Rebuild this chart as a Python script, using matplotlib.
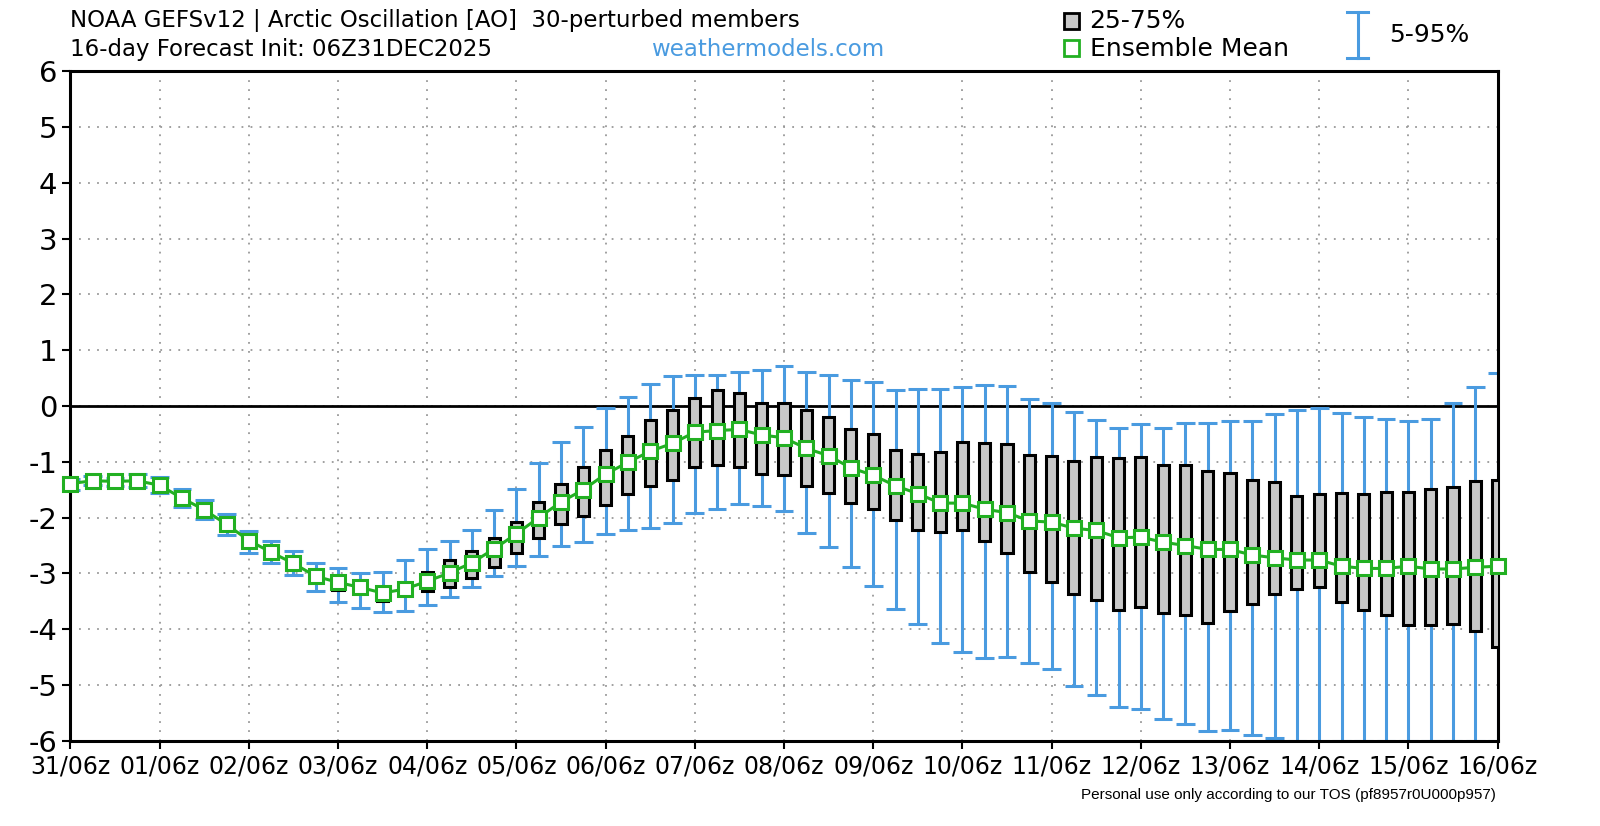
import matplotlib
matplotlib.use("Agg")
import matplotlib.pyplot as plt
from matplotlib.patches import Rectangle
import numpy as np

labels = ["31/06z","01/06z","02/06z","03/06z","04/06z","05/06z","06/06z","07/06z",
          "08/06z","09/06z","10/06z","11/06z","12/06z","13/06z","14/06z","15/06z","16/06z"]

mean = [-1.39,-1.34,-1.35,-1.34,-1.42,-1.65,-1.86,-2.12,-2.41,-2.62,-2.82,-3.05,-3.16,-3.25,-3.35,-3.28,
        -3.14,-2.99,-2.81,-2.56,-2.29,-2.00,-1.72,-1.50,-1.22,-1.01,-0.81,-0.67,-0.47,-0.44,-0.42,-0.52,
        -0.57,-0.76,-0.89,-1.11,-1.24,-1.43,-1.57,-1.74,-1.74,-1.85,-1.91,-2.06,-2.08,-2.19,-2.23,-2.36,
        -2.35,-2.44,-2.50,-2.57,-2.57,-2.67,-2.72,-2.76,-2.76,-2.87,-2.91,-2.91,-2.87,-2.92,-2.92,-2.89,-2.87]
q75 = [-1.36,-1.31,-1.32,-1.31,-1.38,-1.61,-1.81,-2.07,-2.36,-2.56,-2.75,-2.98,-3.06,-3.15,-3.24,-3.18,
       -2.98,-2.76,-2.59,-2.37,-2.07,-1.72,-1.39,-1.09,-0.78,-0.53,-0.26,-0.07,0.15,0.28,0.24,0.06,
       0.05,-0.08,-0.20,-0.42,-0.51,-0.78,-0.86,-0.82,-0.64,-0.67,-0.68,-0.87,-0.89,-0.99,-0.92,-0.93,
       -0.91,-1.05,-1.06,-1.17,-1.20,-1.32,-1.36,-1.62,-1.58,-1.56,-1.57,-1.54,-1.54,-1.49,-1.46,-1.35,-1.33]
q25 = [-1.42,-1.37,-1.38,-1.37,-1.46,-1.69,-1.91,-2.17,-2.46,-2.68,-2.89,-3.12,-3.29,-3.35,-3.49,-3.38,
       -3.32,-3.25,-3.09,-2.88,-2.63,-2.36,-2.12,-1.97,-1.77,-1.57,-1.44,-1.33,-1.09,-1.05,-1.09,-1.21,
       -1.24,-1.44,-1.56,-1.74,-1.84,-2.04,-2.22,-2.26,-2.23,-2.41,-2.63,-2.98,-3.15,-3.37,-3.48,-3.65,
       -3.60,-3.71,-3.75,-3.88,-3.68,-3.55,-3.37,-3.27,-3.25,-3.52,-3.65,-3.74,-3.93,-3.92,-3.90,-4.03,-4.32]
p95 = [-1.30,-1.26,-1.29,-1.22,-1.28,-1.49,-1.68,-1.94,-2.24,-2.42,-2.60,-2.81,-2.91,-3.00,-2.97,-2.76,
       -2.56,-2.42,-2.22,-1.87,-1.48,-1.03,-0.64,-0.38,-0.04,0.16,0.40,0.53,0.56,0.56,0.61,0.65,
       0.72,0.61,0.56,0.46,0.43,0.28,0.31,0.30,0.34,0.37,0.35,0.12,0.06,-0.10,-0.25,-0.40,
       -0.33,-0.40,-0.30,-0.30,-0.27,-0.27,-0.15,-0.07,-0.04,-0.13,-0.20,-0.23,-0.27,-0.23,0.05,0.34,0.59]
p5 = [-1.50,-1.41,-1.44,-1.45,-1.56,-1.81,-2.03,-2.31,-2.63,-2.82,-3.02,-3.31,-3.51,-3.61,-3.69,-3.68,
      -3.56,-3.43,-3.24,-3.04,-2.86,-2.69,-2.50,-2.44,-2.29,-2.23,-2.18,-2.09,-1.91,-1.85,-1.75,-1.80,
      -1.88,-2.27,-2.53,-2.89,-3.22,-3.64,-3.90,-4.25,-4.40,-4.51,-4.49,-4.61,-4.71,-5.01,-5.17,-5.39,
      -5.43,-5.61,-5.70,-5.83,-5.80,-5.90,-5.95,-6.0,-6.0,-6.0,-6.0,-6.0,-6.0,-6.0,-6.0,-6.0,-6.0]

x = np.arange(len(mean))
blue = "#4a9be0"
green = "#22b022"

fig = plt.figure(figsize=(16, 8.26), dpi=100)
ax = fig.add_axes([0.044, 0.103, 0.892, 0.811])
ax.set_xlim(0, len(mean) - 1)
ax.set_ylim(-6, 6)

# grid
for xv in range(0, len(mean), 4):
    ax.axvline(xv, color="#999999", lw=1.3, ls=(0, (1, 4)), zorder=0)
for yv in range(-5, 6):
    ax.axhline(yv, color="#999999", lw=1.3, ls=(0, (1, 4)), zorder=0)
ax.axhline(0, color="black", lw=2, zorder=1)

# whiskers
cw = 0.42
ax.vlines(x, p5, p95, color=blue, lw=2.2, zorder=2)
ax.hlines(p95, x - cw, x + cw, color=blue, lw=2.2, zorder=2)
ax.hlines(p5, x - cw, x + cw, color=blue, lw=2.2, zorder=2)

# boxes
bw = 0.5
for xi, lo, hi in zip(x, q25, q75):
    ax.add_patch(Rectangle((xi - bw / 2, lo), bw, hi - lo, facecolor="#c8c8c8",
                           edgecolor="black", lw=2.2, zorder=3))

ax.plot(x, mean, color=green, lw=2.2, marker="s", ms=10, mfc="white", mec=green,
        mew=2.2, zorder=4, clip_on=False)

ax.set_xticks(range(0, len(mean), 4))
ax.set_xticklabels(labels, fontsize=17)
ax.set_yticks(range(-6, 7))
ax.set_yticklabels([str(v) for v in range(-6, 7)], fontsize=21)
ax.tick_params(direction="out", length=6, width=1.5)
for s in ax.spines.values():
    s.set_linewidth(2.2)

# header
fig.text(0.044, 0.975, "NOAA GEFSv12 | Arctic Oscillation [AO]  30-perturbed members",
         fontsize=16.5, ha="left", va="center")
fig.text(0.044, 0.94, "16-day Forecast Init: 06Z31DEC2025", fontsize=16.5, ha="left", va="center")
fig.text(0.48, 0.94, "weathermodels.com", fontsize=16.5, ha="center", va="center", color=blue)

# legend
fig.patches.append(Rectangle((0.665, 0.965), 0.0095, 0.019, transform=fig.transFigure,
                             facecolor="#c8c8c8", edgecolor="black", lw=2))
fig.text(0.681, 0.975, "25-75%", fontsize=18, ha="left", va="center")
fig.patches.append(Rectangle((0.665, 0.932), 0.0095, 0.019, transform=fig.transFigure,
                             facecolor="white", edgecolor=green, lw=2))
fig.text(0.681, 0.941, "Ensemble Mean", fontsize=18, ha="left", va="center")
fig.lines.append(plt.Line2D([0.8485, 0.8485], [0.93, 0.985], transform=fig.transFigure, color=blue, lw=2.2))
fig.lines.append(plt.Line2D([0.842, 0.855], [0.985, 0.985], transform=fig.transFigure, color=blue, lw=2.2))
fig.lines.append(plt.Line2D([0.842, 0.855], [0.93, 0.93], transform=fig.transFigure, color=blue, lw=2.2))
fig.text(0.868, 0.958, "5-95%", fontsize=18, ha="left", va="center")

fig.text(0.935, 0.038, "Personal use only according to our TOS (pf8957r0U000p957)",
         fontsize=11, ha="right", va="center", family="Liberation Sans")

fig.savefig("out.png", dpi=100)
